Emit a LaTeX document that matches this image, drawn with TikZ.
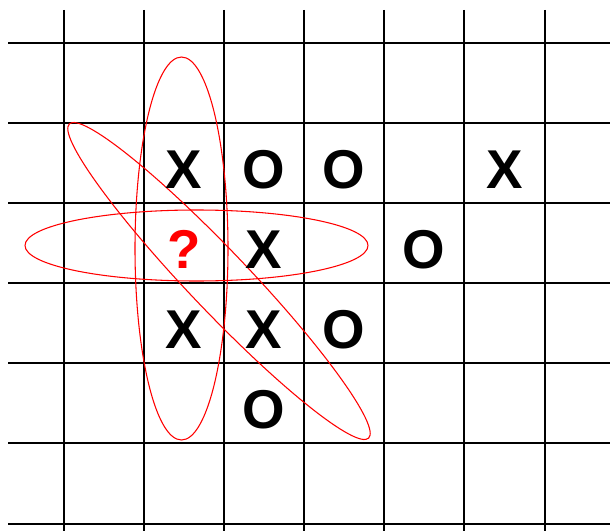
\documentclass[tikz,border=0pt]{standalone}
\usepackage{fontspec}
\setmainfont{Liberation Sans}
\begin{document}
\begin{tikzpicture}[x=0.75pt,y=-0.75pt,
  gridline/.style={line width=1.4pt,black},
  loop/.style={draw=red,line width=0.8pt},
  glyph/.style={font=\fontsize{41}{41}\selectfont\bfseries,anchor=base,inner sep=0pt},
  qglyph/.style={glyph,text=red}]
\useasboundingbox (0,0) rectangle (610,531);
\fill[white] (0,0) rectangle (610,531);
% grid
\foreach \y in {43,123,203,283,363,443,524}
  \draw[gridline] (8,\y) -- (610,\y);
\foreach \x in {64,144,224,304,384,464,545}
  \draw[gridline] (\x,10) -- (\x,531);
% red loops
\draw[loop] (181.5,248.5) ellipse [x radius=46.5, y radius=191.5];
\draw[loop] (196.5,245.5) ellipse [x radius=171.5, y radius=35.5];
\draw[loop,rotate around={-46.4:(219,281)}] (219,281) ellipse [x radius=217, y radius=30];
% marks
\node[glyph] (r1c2) at (184,188) {X};
\node[glyph] (r1c3) at (264,188) {O};
\node[glyph] (r1c4) at (344,188) {O};
\node[glyph] (r1c6) at (505,188) {X};
\node[qglyph] (r2c2) at (184,268) {?};
\node[glyph] (r2c3) at (264,268) {X};
\node[glyph] (r2c5) at (424,268) {O};
\node[glyph] (r3c2) at (184,348) {X};
\node[glyph] (r3c3) at (264,348) {X};
\node[glyph] (r3c4) at (344,348) {O};
\node[glyph] (r4c3) at (264,428) {O};
\end{tikzpicture}
\end{document}
